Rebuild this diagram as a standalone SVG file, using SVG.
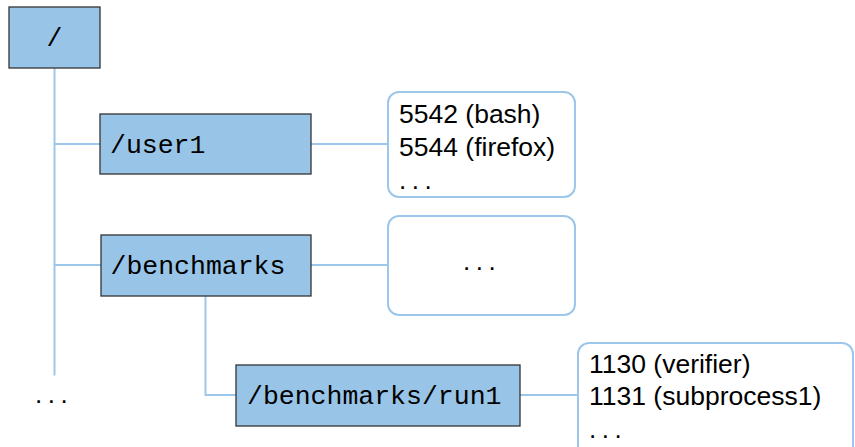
<svg xmlns="http://www.w3.org/2000/svg" width="855" height="447" viewBox="0 0 855 447">
<style>
.dir{fill:#98c5e7;stroke:#333;stroke-width:1.3}
.proc{fill:#fff;stroke:#9dc7ea;stroke-width:2}
.con{fill:none;stroke:#9dc7ea;stroke-width:2}
.mono{font-family:"Liberation Mono",monospace;font-size:26.5px;fill:#000}
.sans{font-family:"Liberation Sans",Arial,sans-serif;font-size:26.5px;fill:#000}
.dots{font-family:"Liberation Sans",Arial,sans-serif;font-size:26px;fill:#000;letter-spacing:5.5px}
</style>
<rect width="855" height="447" fill="#fff"/>
<g id="connectors">
<path class="con" d="M54.5,68 V375.5"/>
<path class="con" d="M54.5,144 H100"/>
<path class="con" d="M54.5,265 H101"/>
<path class="con" d="M311,144 H388"/>
<path class="con" d="M311,265 H388"/>
<path class="con" d="M205.5,296 V395 H236"/>
<path class="con" d="M520,395 H578"/>
</g>
<g id="root">
<rect class="dir" x="9" y="7" width="91" height="61"/>
<text class="mono" x="54.5" y="46" text-anchor="middle">/</text>
</g>
<g id="user1">
<rect class="dir" x="100" y="114" width="211" height="60"/>
<text class="mono" x="110" y="153">/user1</text>
</g>
<g id="benchmarks">
<rect class="dir" x="101" y="235" width="210" height="61"/>
<text class="mono" x="110.5" y="274">/benchmarks</text>
</g>
<g id="run1">
<rect class="dir" x="236" y="365" width="284" height="61"/>
<text class="mono" x="247" y="404">/benchmarks/run1</text>
</g>
<g id="procs-user1">
<rect class="proc" x="388" y="92" width="187" height="105" rx="11"/>
<text class="sans" x="399" y="123">5542 (bash)</text>
<text class="sans" x="399" y="156">5544 (firefox)</text>
<text class="dots" x="399" y="189">...</text>
</g>
<g id="procs-benchmarks">
<rect class="proc" x="388" y="216" width="187" height="99" rx="11"/>
<text class="dots" x="463" y="270">...</text>
</g>
<g id="procs-run1">
<rect class="proc" x="578" y="343" width="275" height="130" rx="11"/>
<text class="sans" x="589" y="373">1130 (verifier)</text>
<text class="sans" x="589" y="405">1131 (subprocess1)</text>
<text class="dots" x="589" y="438">...</text>
</g>
<g id="more">
<text class="dots" x="35" y="403">...</text>
</g>
</svg>
